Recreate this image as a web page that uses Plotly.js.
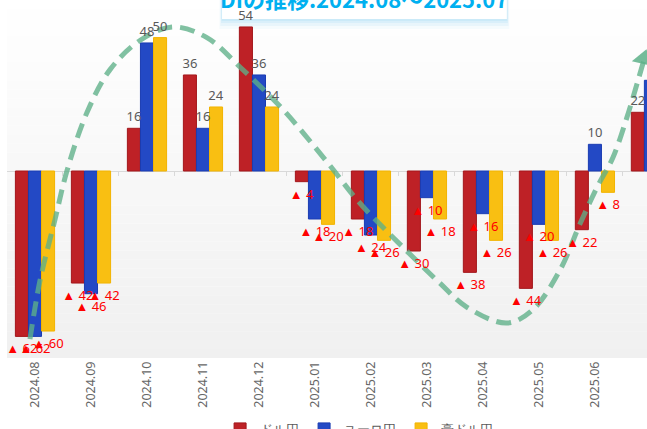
<!DOCTYPE html>
<html lang="ja">
<head>
<meta charset="utf-8">
<script src="https://cdn.plot.ly/plotly-3.0.1.min.js"></script>
<style>
  html, body { margin: 0; padding: 0; background: #fff; }
  #chart { width: 647px; height: 429px; }
</style>
</head>
<body>
<div id="chart"></div>
<script>
// ---- データ ----
const months = ['2024.08', '2024.09', '2024.10', '2024.11', '2024.12', '2025.01',
                '2025.02', '2025.03', '2025.04', '2025.05', '2025.06', '2025.07'];
const usdJpy = [-62, -42, 16, 36, 54, -4, -18, -30, -38, -44, -22, 22];
const eurJpy = [-62, -46, 48, 16, 36, -18, -24, -10, -16, -20, 10, 34];
const audJpy = [-60, -42, 50, 24, 24, -20, -26, -18, -26, -26, -8, null];

// 手書き風のトレンド矢印（カテゴリ位置, DI）
const trendX = [-0.09, 0.09, 0.36, 0.57, 0.93, 1.34, 1.88, 2.46, 3.07, 3.66, 4.43, 5.23, 5.8,
                6.64, 7.23, 7.71, 8.43, 8.89, 9.38, 9.73, 10.04, 10.32, 10.57, 10.77, 10.88];
const trendY = [-63, -41, -18, 0, 22, 38, 49, 54, 50, 39, 23, 3, -12,
                -30, -42, -51, -57, -52, -37, -20, -6, 5, 20, 34, 42];

const xIdx = months.map((m, i) => i);
const bounds = months.slice(1).map((m, i) => i + 0.5);

// ---- ラベル ----
function labelText(vals) {
  return vals.map(v => v == null ? '' : (v < 0 ? '▲ ' + (-v) : String(v)));
}
function labelColor(vals) {
  return vals.map(v => (v != null && v < 0) ? '#ff0000' : '#595959');
}

function barTrace(name, vals, color, edge) {
  return {
    type: 'bar',
    name: name,
    x: xIdx,
    y: vals,
    marker: { color: color, line: { color: edge, width: 1 } },
    hoverinfo: 'skip'
  };
}

// ラベルは上のレイヤー（x2/y2）に透明バーで重ねる
function labelTrace(vals) {
  return {
    type: 'bar',
    x: xIdx,
    y: vals,
    xaxis: 'x2',
    yaxis: 'y2',
    marker: { color: 'rgba(0,0,0,0)' },
    text: labelText(vals),
    textposition: 'outside',
    textfont: { family: 'Noto Sans, sans-serif', size: 13, color: labelColor(vals) },
    constraintext: 'none',
    cliponaxis: false,
    showlegend: false,
    hoverinfo: 'skip'
  };
}

const traces = [
  barTrace('ドル円', usdJpy, '#be2126', '#a3161b'),
  barTrace('ユーロ円', eurJpy, '#2349c5', '#1a3cb2'),
  barTrace('豪ドル円', audJpy, '#f9bf12', '#f2b400'),
  {
    type: 'scatter',
    mode: 'lines',
    x: trendX,
    y: trendY,
    line: { color: 'rgba(93,176,136,0.78)', width: 5, dash: '15px,8px', shape: 'spline', smoothing: 1 },
    showlegend: false,
    hoverinfo: 'skip',
    cliponaxis: false
  },
  {
    type: 'scatter',
    mode: 'markers',
    x: trendX.slice(-1),
    y: trendY.slice(-1),
    marker: { symbol: 'triangle-up', size: 20, angle: 13, color: 'rgba(93,176,136,0.85)' },
    showlegend: false,
    hoverinfo: 'skip',
    cliponaxis: false
  },
  labelTrace(usdJpy),
  labelTrace(eurJpy),
  labelTrace(audJpy)
];

// ---- 背景グラデーション + タイトル枠 ----
const shapes = [];
const steps = 40;
for (let i = 0; i < steps; i++) {
  const c = Math.round(255 - 15 * (i + 0.5) / steps);
  shapes.push({
    type: 'rect', xref: 'paper', yref: 'paper', layer: 'below',
    x0: 0, x1: 1, y0: 1 - (i + 1) / steps, y1: 1 - i / steps,
    fillcolor: `rgb(${c},${c},${c})`, line: { width: 0 }
  });
}
const boxL = 0.336, boxR = 0.781, boxB = 0.947;
[10, 7, 4, 2].forEach((pad, k) => {
  shapes.push({
    type: 'rect', xref: 'paper', yref: 'paper', layer: 'below',
    x0: boxL - pad / 2560, x1: boxR + pad / 2560,
    y0: boxB - pad / 358, y1: 1.05,
    fillcolor: `rgba(170,222,245,${0.1 + k * 0.07})`, line: { width: 0 }
  });
});
shapes.push({
  type: 'rect', xref: 'paper', yref: 'paper', layer: 'below',
  x0: boxL, x1: boxR, y0: boxB, y1: 1.05,
  fillcolor: '#ffffff', line: { width: 0 }
});

const layout = {
  width: 647,
  height: 429,
  margin: { l: 7, r: 0, t: 0, b: 71 },
  paper_bgcolor: '#ffffff',
  plot_bgcolor: 'rgba(0,0,0,0)',
  barmode: 'group',
  bargap: 0.3,
  bargroupgap: 0,
  font: { family: 'Noto Sans, sans-serif', color: '#595959' },
  xaxis: {
    range: [-0.5, 10.93],
    tickvals: xIdx,
    ticktext: months,
    tickangle: -90,
    tickfont: { size: 12.5, color: '#666666' },
    showgrid: false,
    zeroline: false,
    showline: false,
    ticks: '',
    fixedrange: true
  },
  xaxis2: {
    range: [-0.5, 10.93],
    overlaying: 'x',
    anchor: 'free',
    position: 187 / 358,
    tickvals: bounds,
    ticks: 'outside',
    ticklen: 4,
    tickcolor: '#d9d9d9',
    showticklabels: false,
    showgrid: false,
    zeroline: false,
    showline: false,
    fixedrange: true
  },
  yaxis: {
    range: [-70.1, 64.1],
    showgrid: false,
    showticklabels: false,
    zeroline: true,
    zerolinecolor: '#d9d9d9',
    zerolinewidth: 1,
    fixedrange: true
  },
  yaxis2: {
    range: [-70.1, 64.1],
    overlaying: 'y',
    anchor: 'x2',
    showgrid: false,
    showticklabels: false,
    zeroline: false,
    showline: false,
    fixedrange: true
  },
  legend: {
    orientation: 'h',
    xref: 'container', yref: 'container',
    x: 0.555, xanchor: 'center',
    y: 0.035, yanchor: 'top',
    font: { size: 13, color: '#595959' },
    itemwidth: 30,
    bgcolor: 'rgba(0,0,0,0)'
  },
  shapes: shapes,
  annotations: [{
    xref: 'paper', yref: 'paper',
    x: 0.558, y: 1,
    xanchor: 'center', yanchor: 'middle',
    yshift: 2,
    showarrow: false,
    text: '<b>DIの推移:2024.08〜2025.07</b>',
    font: { family: 'Noto Sans CJK JP, sans-serif', size: 22, color: '#00b0f0' }
  }]
};

Plotly.newPlot('chart', traces, layout, { displayModeBar: false, staticPlot: true });
</script>
</body>
</html>
